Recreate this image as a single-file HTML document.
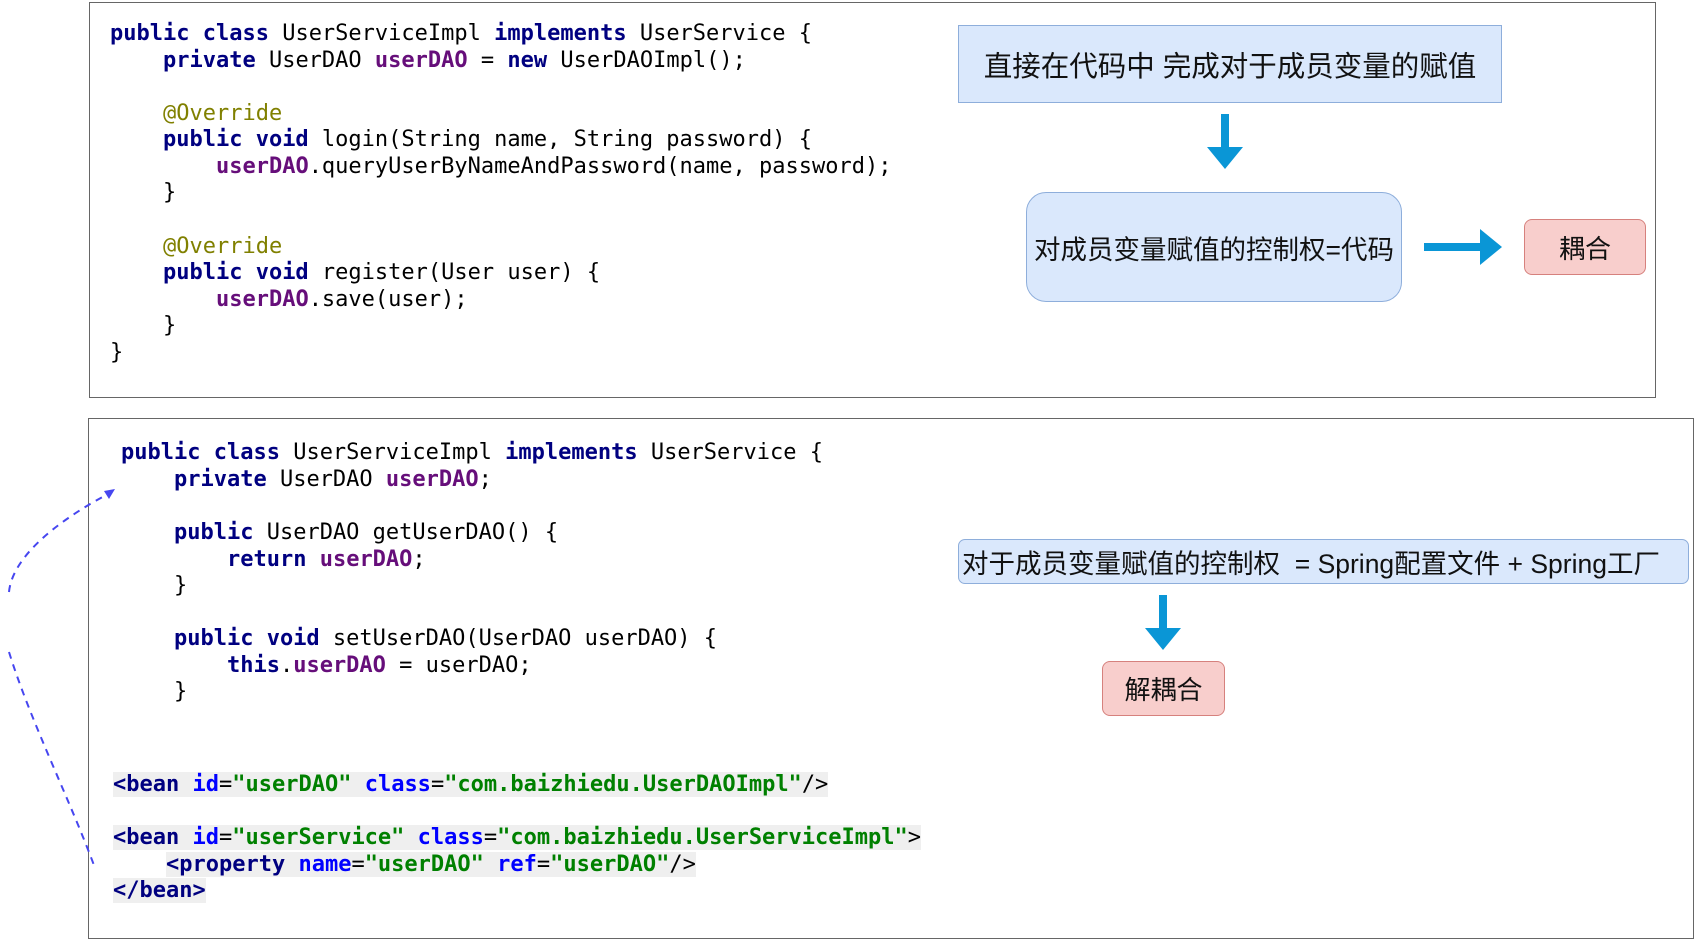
<!DOCTYPE html>
<html><head><meta charset="utf-8"><style>
body{margin:0;width:1698px;height:943px;background:#fff;position:relative;overflow:hidden}
.box{position:absolute;border:1.5px solid #666;box-sizing:border-box}
.c{position:absolute;font-family:"DejaVu Sans Mono","Liberation Mono",monospace;font-size:22px;line-height:26px;white-space:pre;color:#000}
.k{color:#000080;font-weight:bold}.f{color:#660e7a;font-weight:bold}.a{color:#808000}
.t{color:#000080;font-weight:bold}.n{color:#0000ff;font-weight:bold}.v{color:#008000;font-weight:bold}
.x{background:#efefef}
.n1{position:absolute;box-sizing:border-box;display:flex;align-items:center;justify-content:center;font-family:"Liberation Sans","Noto Sans CJK SC",sans-serif;color:#111;white-space:nowrap}
.blue{background:#dae8fc;border:1.5px solid #8eaedb}
.red{background:#f8cecc;border:1.5px solid #d6817d;border-radius:8px}
</style></head><body>
<div class="box" style="left:89px;top:2px;width:1567px;height:396px"></div>
<div class="box" style="left:88px;top:418px;width:1606px;height:521px"></div>

<div class="c" style="left:110px;top:21px"><span class="k">public class</span> UserServiceImpl <span class="k">implements</span> UserService {</div>
<div class="c" style="left:110px;top:48px">    <span class="k">private</span> UserDAO <span class="f">userDAO</span> = <span class="k">new</span> UserDAOImpl();</div>
<div class="c" style="left:110px;top:101px">    <span class="a">@Override</span></div>
<div class="c" style="left:110px;top:127px">    <span class="k">public void</span> login(String name, String password) {</div>
<div class="c" style="left:110px;top:154px">        <span class="f">userDAO</span>.queryUserByNameAndPassword(name, password);</div>
<div class="c" style="left:110px;top:180px">    }</div>
<div class="c" style="left:110px;top:234px">    <span class="a">@Override</span></div>
<div class="c" style="left:110px;top:260px">    <span class="k">public void</span> register(User user) {</div>
<div class="c" style="left:110px;top:287px">        <span class="f">userDAO</span>.save(user);</div>
<div class="c" style="left:110px;top:313px">    }</div>
<div class="c" style="left:110px;top:340px">}</div>

<div class="c" style="left:121px;top:440px"><span class="k">public class</span> UserServiceImpl <span class="k">implements</span> UserService {</div>
<div class="c" style="left:121px;top:467px">    <span class="k">private</span> UserDAO <span class="f">userDAO</span>;</div>
<div class="c" style="left:121px;top:520px">    <span class="k">public</span> UserDAO getUserDAO() {</div>
<div class="c" style="left:121px;top:547px">        <span class="k">return</span> <span class="f">userDAO</span>;</div>
<div class="c" style="left:121px;top:573px">    }</div>
<div class="c" style="left:121px;top:626px">    <span class="k">public void</span> setUserDAO(UserDAO userDAO) {</div>
<div class="c" style="left:121px;top:653px">        <span class="k">this</span>.<span class="f">userDAO</span> = userDAO;</div>
<div class="c" style="left:121px;top:679px">    }</div>

<div class="c" style="left:113px;top:772px"><span class="x"><span class="t">&lt;bean</span> <span class="n">id</span>=<span class="v">"userDAO"</span> <span class="n">class</span>=<span class="v">"com.baizhiedu.UserDAOImpl"</span>/&gt;</span></div>
<div class="c" style="left:113px;top:825px"><span class="x"><span class="t">&lt;bean</span> <span class="n">id</span>=<span class="v">"userService"</span> <span class="n">class</span>=<span class="v">"com.baizhiedu.UserServiceImpl"</span>&gt;</span></div>
<div class="c" style="left:113px;top:852px">    <span class="x"><span class="t">&lt;property</span> <span class="n">name</span>=<span class="v">"userDAO"</span> <span class="n">ref</span>=<span class="v">"userDAO"</span>/&gt;</span></div>
<div class="c" style="left:113px;top:878px"><span class="x"><span class="t">&lt;/bean&gt;</span></span></div>

<div class="n1 blue" style="left:958px;top:25px;width:544px;height:78px;font-size:28.5px">直接在代码中 完成对于成员变量的赋值</div>
<div class="n1 blue" style="left:1026px;top:192px;width:376px;height:110px;border-radius:20px;font-size:26.5px">对成员变量赋值的控制权=代码</div>
<div class="n1 red" style="left:1524px;top:219px;width:122px;height:56px;font-size:26px">耦合</div>
<div class="n1 blue" style="left:958px;top:539px;width:731px;height:45px;border-radius:7px;font-size:26.5px;justify-content:flex-start;padding-left:3px">对于成员变量赋值的控制权&nbsp;&nbsp;= Spring配置文件 + Spring工厂</div>
<div class="n1 red" style="left:1102px;top:661px;width:123px;height:55px;font-size:26px">解耦合</div>

<svg width="1698" height="943" style="position:absolute;left:0;top:0">
<polygon points="1221,114 1229,114 1229,147 1243,147 1225,169 1207,147 1221,147" fill="#0a96d6"/>
<polygon points="1424,243 1480,243 1480,229 1502,247 1480,265 1480,251 1424,251" fill="#0a96d6"/>
<polygon points="1159,595 1167,595 1167,628 1181,628 1163,650 1145,628 1159,628" fill="#0a96d6"/>
<path d="M9,592 C12,560 50,525 108,494" fill="none" stroke="#4646f0" stroke-width="2" stroke-dasharray="7,6"/>
<polygon points="115,489 104,491 109,499" fill="#4646f0"/>
<path d="M9,652 C30,720 70,800 95,868" fill="none" stroke="#4646f0" stroke-width="2" stroke-dasharray="7,6"/>
</svg>
</body></html>
